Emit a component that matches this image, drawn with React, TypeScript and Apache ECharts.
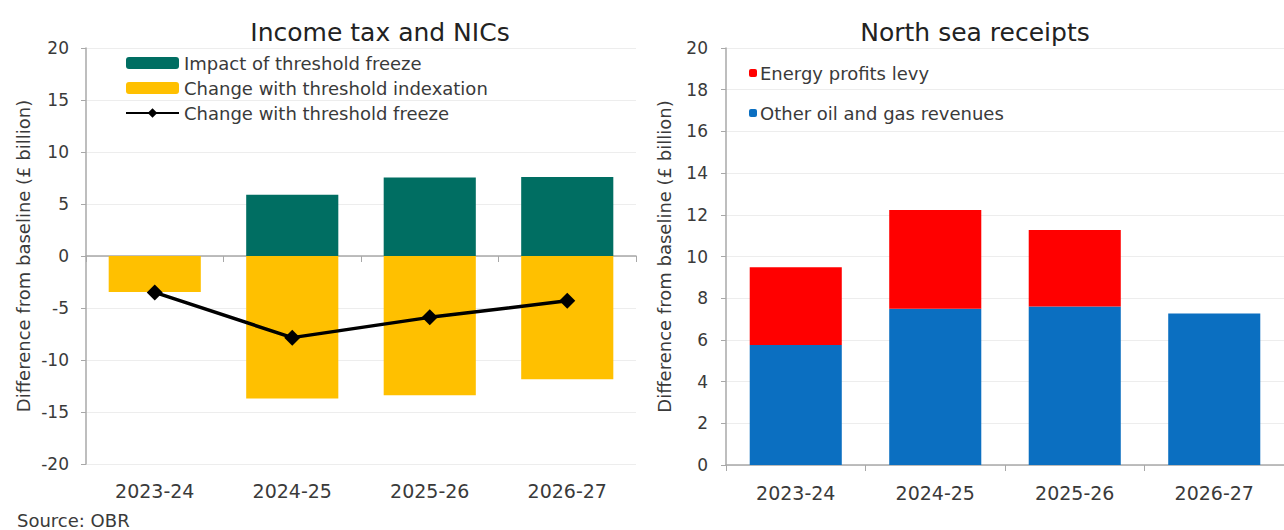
import React, { useEffect, useRef } from "react";
import * as echarts from "echarts";

const categories = ["2023-24", "2024-25", "2025-26", "2026-27"];
const freezeImpact = [0, 5.9, 7.55, 7.6];
const indexationChange = [-3.45, -13.7, -13.4, -11.85];
const freezeChange = [-3.5, -7.85, -5.9, -4.3];
const otherOilGas = [5.75, 7.5, 7.6, 7.27];
const energyLevy = [3.73, 4.73, 3.67, 0];

const FONT = "DejaVu Sans";
const TXT = "#3a3a3a";

export default function App() {
  const ref = useRef<HTMLDivElement>(null);
  useEffect(() => {
    if (!ref.current) return;
    const chart = echarts.init(ref.current, null, { renderer: "svg" });
    const yAxisBase = (idx: number, min: number, max: number, interval: number, labelMargin: number, nameGap: number) => ({
      type: "value",
      gridIndex: idx,
      min,
      max,
      interval,
      name: "Difference from baseline (£ billion)",
      nameLocation: "middle",
      nameGap,
      nameTextStyle: { fontFamily: FONT, fontSize: 18, color: TXT },
      axisLine: { show: true, lineStyle: { color: "#a8a8a8", width: 1.5 } },
      axisTick: { show: true, length: 5, lineStyle: { color: "#a8a8a8" } },
      axisLabel: { fontFamily: FONT, fontSize: 17, color: TXT, margin: labelMargin },
      splitLine: { show: true, lineStyle: { color: "#ededed", width: 1 } },
    });
    const option: any = {
      animation: false,
      textStyle: { fontFamily: FONT },
      title: [
        {
          text: "Income tax and NICs",
          left: 375,
          top: 15,
          textAlign: "center",
          textStyle: { fontFamily: FONT, fontSize: 25, fontWeight: "normal", color: "#222" },
        },
        {
          text: "North sea receipts",
          left: 970,
          top: 15,
          textAlign: "center",
          textStyle: { fontFamily: FONT, fontSize: 25, fontWeight: "normal", color: "#222" },
        },
        {
          text: "Source: OBR",
          left: 12,
          top: 506,
          textStyle: { fontFamily: FONT, fontSize: 18, fontWeight: "normal", color: TXT },
        },
      ],
      legend: [
        {
          orient: "vertical",
          left: 120,
          top: 49,
          itemWidth: 53,
          itemHeight: 12,
          itemGap: 7,
          textStyle: { fontFamily: FONT, fontSize: 18, color: TXT },
          data: [
            { name: "Impact of threshold freeze" },
            { name: "Change with threshold indexation" },
            { name: "Change with threshold freeze" },
          ],
        },
        {
          orient: "vertical",
          left: 744,
          top: 59,
          itemWidth: 8,
          itemHeight: 8,
          itemGap: 22,
          textStyle: { fontFamily: FONT, fontSize: 18, color: TXT, padding: [0, 0, 0, -2] },
          data: [{ name: "Energy profits levy" }, { name: "Other oil and gas revenues" }],
        },
      ],
      grid: [
        { left: 86, right: 648, top: 48, bottom: 66 },
        { left: 726, right: 0, top: 48, bottom: 65 },
      ],
      xAxis: [
        {
          type: "category",
          gridIndex: 0,
          data: categories,
          position: "bottom",
          axisLine: { show: true, onZero: true, lineStyle: { color: "#a8a8a8", width: 1.5 } },
          axisTick: { show: true, length: 6, lineStyle: { color: "#a8a8a8" } },
          axisLabel: { show: false },
        },
        {
          type: "category",
          gridIndex: 0,
          data: categories,
          position: "bottom",
          axisLine: { show: false, onZero: false },
          axisTick: { show: false },
          axisLabel: { fontFamily: FONT, fontSize: 19, color: TXT, margin: 17 },
        },
        {
          type: "category",
          gridIndex: 1,
          data: categories,
          position: "bottom",
          axisLine: { show: true, lineStyle: { color: "#a8a8a8", width: 1.5 } },
          axisTick: { show: true, length: 6, lineStyle: { color: "#a8a8a8" } },
          axisLabel: { fontFamily: FONT, fontSize: 19, color: TXT, margin: 18 },
        },
      ],
      yAxis: [
        yAxisBase(0, -20, 20, 5, 17, 54),
        yAxisBase(1, 0, 20, 2, 18, 53),
      ],
      series: [
        {
          name: "Impact of threshold freeze",
          type: "bar",
          xAxisIndex: 0,
          yAxisIndex: 0,
          stack: "it",
          barWidth: "67%",
          itemStyle: { color: "#006E62" },
          data: freezeImpact,
        },
        {
          name: "Change with threshold indexation",
          type: "bar",
          xAxisIndex: 0,
          yAxisIndex: 0,
          stack: "it",
          barWidth: "67%",
          itemStyle: { color: "#FFC000" },
          data: indexationChange,
        },
        {
          name: "Change with threshold freeze",
          type: "line",
          xAxisIndex: 0,
          yAxisIndex: 0,
          symbol: "diamond",
          symbolSize: 16,
          lineStyle: { color: "#000", width: 3.5 },
          itemStyle: { color: "#000" },
          data: freezeChange,
        },
        {
          name: "Other oil and gas revenues",
          type: "bar",
          xAxisIndex: 2,
          yAxisIndex: 1,
          stack: "ns",
          barWidth: "66%",
          itemStyle: { color: "#0B6FC1" },
          data: otherOilGas,
        },
        {
          name: "Energy profits levy",
          type: "bar",
          xAxisIndex: 2,
          yAxisIndex: 1,
          stack: "ns",
          barWidth: "66%",
          itemStyle: { color: "#FF0000" },
          data: energyLevy,
        },
      ],
    };
    chart.setOption(option);
    return () => chart.dispose();
  }, []);
  return <div ref={ref} style={{ width: 1284, height: 530, position: "absolute", left: 0, top: 0 }} />;
}
